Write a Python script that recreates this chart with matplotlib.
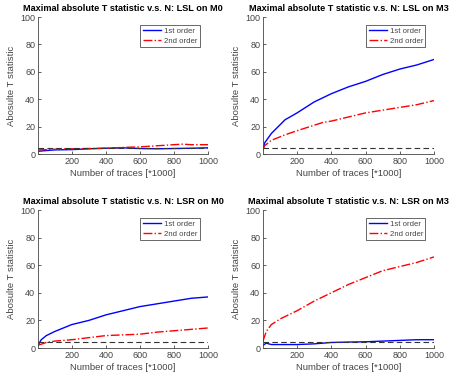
import matplotlib.pyplot as plt
import numpy as np

plt.rcParams["font.family"] = ["Liberation Sans", "DejaVu Sans"]

THRESHOLD = 4.5

# LSL on M0
lsl_m0_x1 = [1, 50, 100, 200, 300, 400, 500, 600, 700, 800, 900, 1000]
lsl_m0_y1 = [2.0, 2.5, 3.0, 3.2, 3.8, 4.2, 4.5, 4.0, 3.8, 4.0, 4.2, 4.5]
lsl_m0_x2 = [1, 50, 100, 200, 300, 400, 500, 600, 700, 800, 850, 900, 1000]
lsl_m0_y2 = [3.0, 3.2, 3.5, 3.8, 4.0, 4.2, 4.8, 5.2, 6.0, 6.8, 7.2, 6.8, 6.8]

# LSL on M3
lsl_m3_x1 = [1, 10, 50, 130, 200, 300, 400, 500, 600, 700, 800, 900, 1000]
lsl_m3_y1 = [3, 8, 15, 25, 30, 38, 44, 49, 53, 58, 62, 65, 69]
lsl_m3_x2 = [1, 10, 50, 130, 200, 300, 350, 400, 500, 600, 700, 800, 900, 1000]
lsl_m3_y2 = [3, 6, 10, 14, 17, 21, 23, 24, 27, 30, 32, 34, 36, 39]

# LSR on M0
lsr_m0_x1 = [1, 20, 50, 100, 200, 300, 400, 500, 600, 700, 800, 900, 1000]
lsr_m0_y1 = [2, 6, 9, 12, 17, 20, 24, 27, 30, 32, 34, 36, 37]
lsr_m0_x2 = [1, 50, 100, 200, 300, 400, 500, 600, 700, 800, 900, 1000]
lsr_m0_y2 = [2, 4, 5, 6, 7.5, 9, 9.5, 10, 11.5, 12.5, 13.5, 14.5]

# LSR on M3
lsr_m3_x1 = [1, 20, 50, 100, 200, 300, 400, 500, 600, 700, 800, 900, 1000]
lsr_m3_y1 = [2, 3.5, 2.5, 2.5, 2.5, 3, 4, 4.3, 4.5, 5, 5.5, 6, 6]
lsr_m3_x2 = [1, 20, 50, 100, 200, 300, 400, 500, 600, 700, 800, 900, 1000]
lsr_m3_y2 = [5, 12, 17, 21, 27, 34, 40, 46, 51, 56, 59, 62, 66]

panels = [
    ("LSL on M0", lsl_m0_x1, lsl_m0_y1, lsl_m0_x2, lsl_m0_y2),
    ("LSL on M3", lsl_m3_x1, lsl_m3_y1, lsl_m3_x2, lsl_m3_y2),
    ("LSR on M0", lsr_m0_x1, lsr_m0_y1, lsr_m0_x2, lsr_m0_y2),
    ("LSR on M3", lsr_m3_x1, lsr_m3_y1, lsr_m3_x2, lsr_m3_y2),
]

# axes rectangles in pixels (left, top, right, bottom)
W, H = 451, 375
boxes = [
    (38, 17, 208, 154),
    (263, 17, 434, 154),
    (38, 210, 208, 348),
    (263, 210, 434, 348),
]

fig = plt.figure(figsize=(W / 100, H / 100), dpi=100)
grey = "#454545"
for (name, x1, y1, x2, y2), (l, t, r, b) in zip(panels, boxes):
    ax = fig.add_axes([l / W, 1 - b / H, (r - l) / W, (b - t) / H])
    ax.plot(x1, y1, "-", color="#0000ff", lw=1.0, label="1st order")
    ax.plot(x2, y2, "-.", color="#ff0000", lw=1.0, label="2nd order")
    ax.axhline(THRESHOLD, color="#333333", ls=(0, (5, 3)), lw=0.8)
    ax.set_xlim(1, 1000)
    ax.set_ylim(0, 100)
    ax.set_xticks([200, 400, 600, 800, 1000])
    ax.set_yticks([0, 20, 40, 60, 80, 100])
    for side in ("top", "right"):
        ax.spines[side].set_visible(False)
    for side in ("left", "bottom"):
        ax.spines[side].set_color(grey)
        ax.spines[side].set_linewidth(0.6)
    ax.tick_params(labelsize=6.5, colors=grey, length=2, width=0.6, pad=2,
                   direction="in")
    ax.set_title(f"Maximal absolute T statistic v.s. N: {name}",
                 fontsize=6.6, fontweight="bold", pad=4)
    ax.set_xlabel("Number of traces [*1000]", fontsize=6.8, color=grey, labelpad=2)
    ax.set_ylabel("Abosulte T statistic", fontsize=6.8, color=grey, labelpad=3)
    leg = ax.legend(loc="upper right", fontsize=5.6, frameon=True, fancybox=False,
                    borderpad=0.3, handlelength=2.4, handletextpad=0.3,
                    labelspacing=0.3, borderaxespad=0,
                    bbox_to_anchor=(0.95, 0.94))
    leg.get_frame().set_edgecolor("#222222")
    leg.get_frame().set_linewidth(0.6)
    for txt in leg.get_texts():
        txt.set_color(grey)

fig.savefig("out.png", dpi=100)
